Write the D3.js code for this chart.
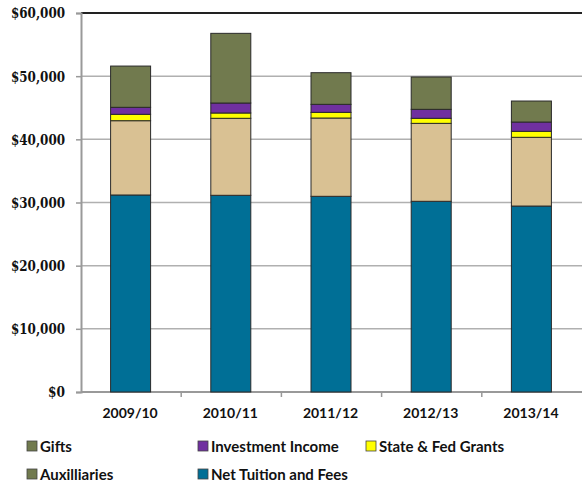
<!DOCTYPE html>
<html><head><meta charset="utf-8">
<script src="https://cdn.jsdelivr.net/npm/d3@7"></script>
<style>body{margin:0;background:#fff}svg{display:block}
.sans{font-family:Lato,"Liberation Sans",sans-serif;font-weight:bold;fill:#111}
</style>
</head><body><svg id="c" width="582" height="487"></svg>
<script>
const years = ["2009/10","2010/11","2011/12","2012/13","2013/14"];
const netTuition = [31190, 31140, 30980, 30190, 29440];
const auxilliaries = [11760, 12190, 12395, 12340, 10880];
const stateFedGrants = [1010, 840, 895, 800, 950];
const investmentIncome = [1110, 1580, 1270, 1420, 1470];
const gifts = [6530, 11030, 5010, 5120, 3325];
const yTicks = [0,10000,20000,30000,40000,50000,60000];

const series = [
  {name:"Net Tuition and Fees", values:netTuition, color:"#006F96", legend:"#006F96"},
  {name:"Auxilliaries", values:auxilliaries, color:"#D9C193", legend:"#717A4E"},
  {name:"State & Fed Grants", values:stateFedGrants, color:"#FFFF00", legend:"#FFFF00"},
  {name:"Investment Income", values:investmentIncome, color:"#7030A0", legend:"#7030A0"},
  {name:"Gifts", values:gifts, color:"#717A4E", legend:"#717A4E"}
];

const svg = d3.select("#c");
const L=81, R=582, T=13, B=392;
const xb = d3.scaleBand().domain(years).range([L,R]);
const y = d3.scaleLinear().domain([0,60000]).range([B,T]);

// gridlines
svg.append("g").selectAll("line").data(yTicks.slice(1,-1)).join("line")
  .attr("x1",L).attr("x2",R).attr("y1",d=>y(d)).attr("y2",d=>y(d))
  .attr("stroke","#b0b0b0").attr("stroke-width",1.5);
// top line
svg.append("line").attr("x1",L).attr("x2",R).attr("y1",y(60000)).attr("y2",y(60000))
  .attr("stroke","#222").attr("stroke-width",2);

// y axis
const yAxis = d3.axisLeft(y).tickValues(yTicks).tickSize(5).tickFormat(d=>"$"+d3.format(",")(d));
const gy = svg.append("g").attr("transform",`translate(${L},0)`).call(yAxis);
gy.select(".domain").attr("stroke","#999").attr("stroke-width",2);
gy.selectAll(".tick line").attr("stroke","#999").attr("stroke-width",1.5);
gy.selectAll(".tick text").attr("x",-16).attr("fill","#111")
  .attr("font-family","DejaVu Serif").attr("font-weight","bold").attr("font-size","15.5px")
  .attr("textLength",54).attr("lengthAdjust","spacingAndGlyphs");
gy.selectAll(".tick text").filter(d=>d===0).attr("textLength",17);

// x axis
const gx = svg.append("g").attr("transform",`translate(0,${B})`);
gx.append("line").attr("x1",L).attr("x2",R).attr("stroke","#999").attr("stroke-width",2);
gx.selectAll("line.t").data(years.slice(1)).join("line").attr("class","t")
  .attr("x1",d=>xb(d)).attr("x2",d=>xb(d)).attr("y1",0).attr("y2",5).attr("stroke","#999").attr("stroke-width",1.5);
gx.selectAll("text").data(years).join("text").attr("class","sans")
  .attr("x",d=>xb(d)+xb.bandwidth()/2-1).attr("y",26).attr("text-anchor","middle")
  .attr("font-size","14px")
  .text(d=>d);

// stacked bars
const rows = years.map((yr,i)=>{const o={year:yr}; series.forEach(s=>o[s.name]=s.values[i]); return o;});
const stack = d3.stack().keys(series.map(s=>s.name))(rows);
const bw = 40;
svg.append("g").selectAll("g").data(stack).join("g")
  .attr("fill",(d,i)=>series[i].color)
  .selectAll("rect").data(d=>d).join("rect")
  .attr("x",d=>xb(d.data.year)+xb.bandwidth()/2-bw/2-0.5).attr("width",bw)
  .attr("y",d=>y(d[1])).attr("height",d=>y(d[0])-y(d[1]))
  .attr("stroke","#2a2a2a").attr("stroke-width",1);

// legend
const legendItems = [
  {s:series[4], x:27, y:446},
  {s:series[3], x:198, y:446},
  {s:series[2], x:366, y:446},
  {s:series[1], x:27, y:474},
  {s:series[0], x:198, y:474}
];
const lg = svg.append("g").selectAll("g").data(legendItems).join("g")
  .attr("transform",d=>`translate(${d.x},${d.y})`);
lg.append("rect").attr("x",0).attr("y",-5).attr("width",10).attr("height",10)
  .attr("fill",d=>d.s.legend).attr("stroke","#444").attr("stroke-width",0.8);
lg.append("text").attr("class","sans").attr("x",13).attr("y",5.5)
  .attr("font-size","15px")
  .text(d=>d.s.name);
</script></body></html>
